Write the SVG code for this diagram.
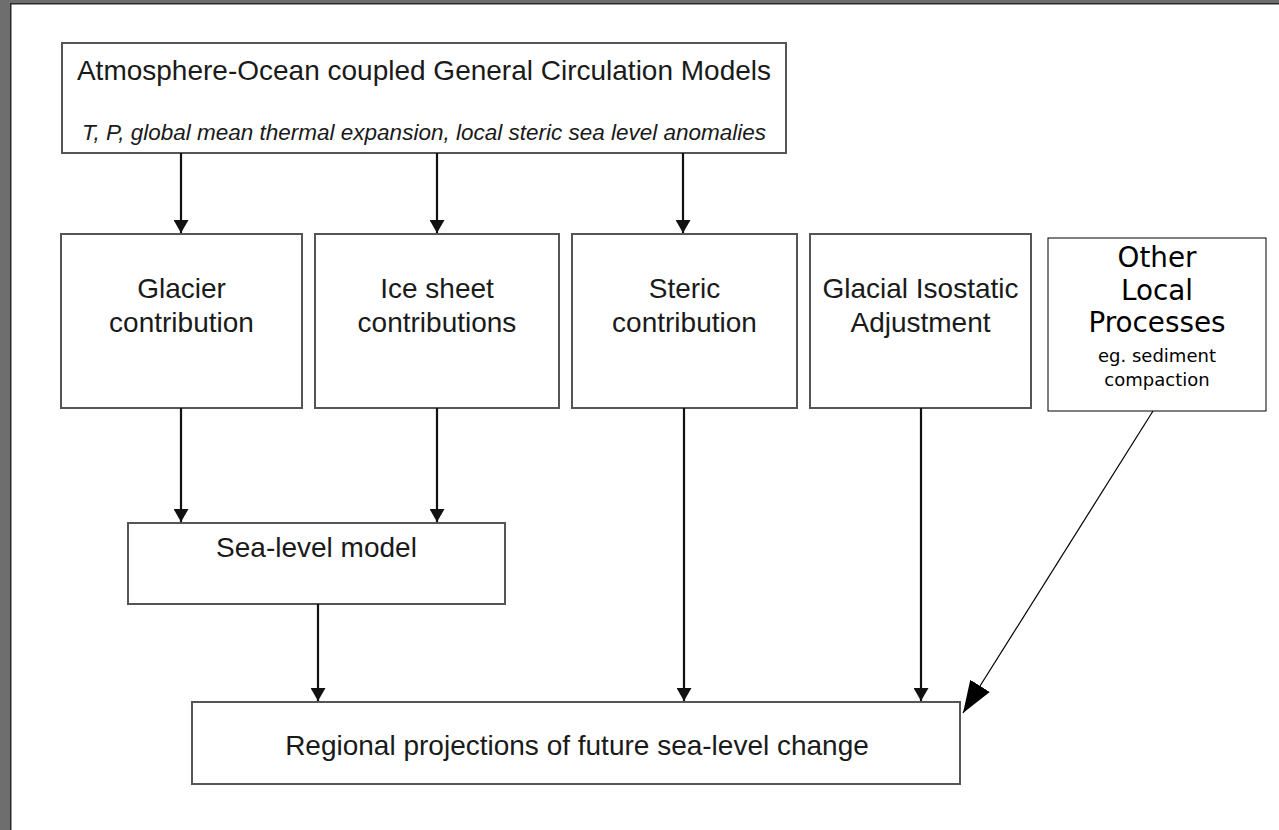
<svg xmlns="http://www.w3.org/2000/svg" width="1279" height="830" viewBox="0 0 1279 830">
<style>
.box{fill:#fff;stroke:#555;stroke-width:2}
.t{font-family:"Liberation Sans",Arial,sans-serif;font-size:28px;fill:#1a1a1a;text-anchor:middle}
.it{font-style:italic;font-size:22.5px}
.o{font-family:"DejaVu Sans",Verdana,sans-serif;fill:#000;text-anchor:middle}
.a{stroke:#111;stroke-width:2.2;fill:none;marker-end:url(#ah)}
</style>
<defs>
<marker id="ah" markerWidth="14" markerHeight="15" refX="13" refY="7.5" orient="auto" markerUnits="userSpaceOnUse" viewBox="0 0 14 15">
<path d="M0,0 L13,7.5 L0,15 Z" fill="#111"/>
</marker>
<marker id="big" markerWidth="34" markerHeight="26" refX="32" refY="13" orient="auto" markerUnits="userSpaceOnUse" viewBox="0 0 34 26">
<path d="M0,1.5 L32,13 L0,24.5 Z" fill="#000"/>
</marker>
</defs>
<rect x="0" y="0" width="1279" height="830" fill="#fff"/>
<rect x="0" y="0" width="10" height="830" fill="#6e6e6e"/>
<rect x="0" y="0" width="1279" height="3" fill="#6e6e6e"/>
<rect x="10" y="3" width="1.5" height="827" fill="#2a2a2a"/>
<rect x="10" y="3" width="1269" height="1.5" fill="#2a2a2a"/>

<g id="aogcm">
<rect class="box" x="62" y="43" width="724" height="110"/>
<text class="t" x="424" y="80">Atmosphere-Ocean coupled General Circulation Models</text>
<text class="t it" x="424" y="140">T, P, global mean thermal expansion, local steric sea level anomalies</text>
</g>
<g id="glacier">
<rect class="box" x="61" y="234" width="241" height="174"/>
<text class="t" x="181.5" y="298">Glacier</text>
<text class="t" x="181.5" y="332">contribution</text>
</g>
<g id="icesheet">
<rect class="box" x="315" y="234" width="244" height="174"/>
<text class="t" x="437" y="298">Ice sheet</text>
<text class="t" x="437" y="332">contributions</text>
</g>
<g id="steric">
<rect class="box" x="572" y="234" width="225" height="174"/>
<text class="t" x="684.5" y="298">Steric</text>
<text class="t" x="684.5" y="332">contribution</text>
</g>
<g id="gia">
<rect class="box" x="810" y="234" width="221" height="174"/>
<text class="t" x="920.5" y="298">Glacial Isostatic</text>
<text class="t" x="920.5" y="332">Adjustment</text>
</g>
<g id="other">
<rect x="1048" y="238" width="218" height="173" fill="#fff" stroke="#000" stroke-width="1"/>
<text class="o" x="1157" y="267" font-size="27.8">Other</text>
<text class="o" x="1157" y="299.5" font-size="27.8">Local</text>
<text class="o" x="1157" y="332" font-size="27.8">Processes</text>
<text class="o" x="1157" y="362" font-size="18">eg. sediment</text>
<text class="o" x="1157" y="386" font-size="18">compaction</text>
</g>
<g id="sealevel">
<rect class="box" x="128" y="523" width="377" height="81"/>
<text class="t" x="316.5" y="557">Sea-level model</text>
</g>
<g id="regional">
<rect class="box" x="192" y="702" width="768" height="82"/>
<text class="t" x="577" y="755">Regional projections of future sea-level change</text>
</g>

<g id="connectors">
<line class="a" x1="181" y1="153" x2="181" y2="233"/>
<line class="a" x1="437" y1="153" x2="437" y2="233"/>
<line class="a" x1="683" y1="153" x2="683" y2="233"/>
<line class="a" x1="181" y1="408" x2="181" y2="522"/>
<line class="a" x1="437" y1="408" x2="437" y2="522"/>
<line class="a" x1="318" y1="604" x2="318" y2="701"/>
<line class="a" x1="684" y1="408" x2="684" y2="701"/>
<line class="a" x1="921" y1="408" x2="921" y2="701"/>
<line x1="1153" y1="411" x2="963" y2="713" stroke="#000" stroke-width="1.2" marker-end="url(#big)"/>
</g>
</svg>
